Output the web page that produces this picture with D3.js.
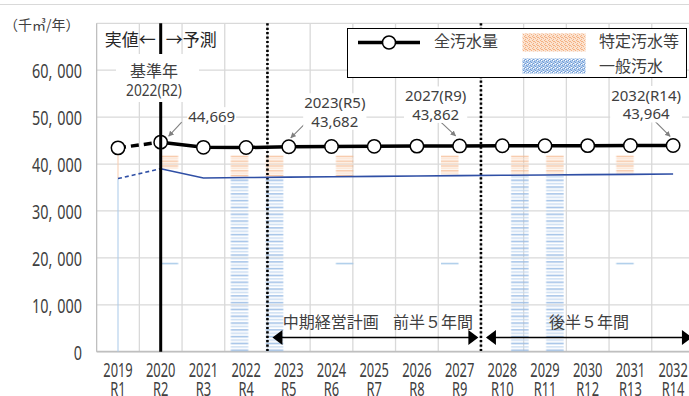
<!DOCTYPE html>
<html>
<head>
<meta charset="utf-8">
<script src="https://cdn.jsdelivr.net/npm/d3@7"></script>
<style>
  body { margin: 0; background: #fff; }
  svg { display: block; }
</style>
</head>
<body>
<div id="chart"></div>
<script>
// data
var years = ["2019","2020","2021","2022","2023","2024","2025","2026","2027","2028","2029","2030","2031","2032"];
var reiwa = ["R1","R2","R3","R4","R5","R6","R7","R8","R9","R10","R11","R12","R13","R14"];
var totalFlow = [43450, 44669, 43560, 43520, 43682, 43730, 43775, 43820, 43862, 43885, 43905, 43925, 43945, 43964];   // 全汚水量
var generalFlow = [36900, 39000, 37020, 37120, 37220, 37300, 37380, 37460, 37540, 37610, 37680, 37740, 37800, 37870]; // 一般汚水
var yTickLabels = [0, 10000, 20000, 30000, 40000, 50000, 60000];

var W = 689, H = 396;
var margin = {top: 23.3, left: 96.65};
var bandW = 42.7;
var width = bandW * years.length,
    height = 328.4;

var CJK = "'Noto Sans CJK JP', sans-serif";
var LATIN = "'Noto Sans', 'Noto Sans CJK JP', sans-serif";

var svg = d3.select("#chart")
  .append("svg")
    .attr("width", W)
    .attr("height", H)
    .style("font-family", CJK);

// faint chart-area border at the top
svg.append("line")
  .attr("x1", 0).attr("x2", W).attr("y1", 4.5).attr("y2", 4.5)
  .attr("stroke", "#d9d9d9").attr("stroke-width", 1);

var g = svg.append("g")
  .attr("transform", "translate(" + margin.left + "," + margin.top + ")");

var x = d3.scaleBand().domain(years).range([0, width]).padding(0);
var y = d3.scaleLinear().domain([0, 70000]).range([height, 0]);
var cx = function(yr) { return x(yr) + x.bandwidth() / 2; };

// condensed-looking text (squeezed horizontally)
function narrowText(parent, tx, ty, size, anchor, sx, fill) {
  return parent.append("text")
    .attr("transform", "translate(" + tx + "," + ty + ") scale(" + sx + ",1)")
    .attr("text-anchor", anchor)
    .style("font-family", LATIN)
    .style("font-size", size + "px")
    .attr("fill", fill);
}

// ---- patterns (the striped fill of the stacked bars) ----
var defs = svg.append("defs");
var colStep = 35.04, colW = 17.5, tileW = colStep * 8;
var cols = [{k: 0, full: false}, {k: 2, full: true}, {k: 3, full: true}, {k: 5, full: false}];
var originX = cx("2020");

var oPat = defs.append("pattern").attr("id", "oPat")
  .attr("patternUnits", "userSpaceOnUse")
  .attr("x", originX).attr("y", 0)
  .attr("width", tileW).attr("height", 400);
var bPat = defs.append("pattern").attr("id", "bPat")
  .attr("patternUnits", "userSpaceOnUse")
  .attr("x", originX).attr("y", 0)
  .attr("width", tileW).attr("height", 400);

cols.forEach(function(c) {
  var n = 0;
  for (var yy = 132.7; yy < 340; yy += 2.4, n++) {
    oPat.append("rect")
      .attr("x", c.k * colStep).attr("y", yy)
      .attr("width", colW).attr("height", 1.1)
      .attr("fill", n % 2 ? "#fbdcc4" : "#f4b183");
  }
  if (c.full) {
    n = 0;
    for (var yb = 0; yb < 340; yb += 3.4, n++) {
      bPat.append("rect")
        .attr("x", c.k * colStep).attr("y", yb)
        .attr("width", colW).attr("height", 1.3)
        .attr("fill", n % 2 ? "#c3d8f0" : "#8fb5e2");
    }
  } else {
    bPat.append("rect")
      .attr("x", c.k * colStep).attr("y", 239.7)
      .attr("width", colW).attr("height", 1.3)
      .attr("fill", "#9dc3e6");
  }
});

// legend swatch textures
var swO = defs.append("pattern").attr("id", "swO").attr("patternUnits", "userSpaceOnUse")
  .attr("width", 4).attr("height", 4);
swO.append("rect").attr("width", 4).attr("height", 4).attr("fill", "#fbe2cf");
[[0,0],[2,1],[1,3],[3,2],[1,1]].forEach(function(p) {
  swO.append("rect").attr("x", p[0]).attr("y", p[1]).attr("width", 1).attr("height", 1).attr("fill", "#f4b183");
});
var swB = defs.append("pattern").attr("id", "swB").attr("patternUnits", "userSpaceOnUse")
  .attr("width", 4).attr("height", 4);
swB.append("rect").attr("width", 4).attr("height", 4).attr("fill", "#b4cdec");
[[0,0],[2,1],[1,3],[3,2]].forEach(function(p) {
  swB.append("rect").attr("x", p[0]).attr("y", p[1]).attr("width", 1).attr("height", 1).attr("fill", "#6f9bd6");
});
[[1,0],[3,3]].forEach(function(p) {
  swB.append("rect").attr("x", p[0]).attr("y", p[1]).attr("width", 1).attr("height", 1).attr("fill", "#ffffff");
});

// ---- grid ----
g.append("g").selectAll("line")
  .data(y.ticks(7))
  .enter().append("line")
    .attr("x1", 0).attr("x2", width)
    .attr("y1", function(d) { return y(d); })
    .attr("y2", function(d) { return y(d); })
    .attr("stroke", "#d9d9d9").attr("stroke-width", 1.3);

g.append("g").selectAll("line")
  .data(years.slice(1).concat(["end"]))
  .enter().append("line")
    .attr("x1", function(d) { return d === "end" ? width : x(d); })
    .attr("x2", function(d) { return d === "end" ? width : x(d); })
    .attr("y1", 0).attr("y2", height)
    .attr("stroke", "#d9d9d9").attr("stroke-width", 1.3);

// axis lines
g.append("line").attr("x1", 0).attr("x2", 0).attr("y1", 0).attr("y2", height)
  .attr("stroke", "#bfbfbf").attr("stroke-width", 1.3);
g.append("line").attr("x1", 0).attr("x2", width).attr("y1", height).attr("y2", height)
  .attr("stroke", "#bfbfbf").attr("stroke-width", 1.8);

// y tick labels
var fmt = d3.format(",");
var yAxisG = g.append("g");
yTickLabels.forEach(function(d) {
  var t = narrowText(yAxisG, 82 - margin.left, y(d) + 7.8, 20, "end", 0.72, "#404040");
  var parts = fmt(d).split(",");
  t.append("tspan").text(parts[0]);
  for (var i = 1; i < parts.length; i++) {
    t.append("tspan").text(",");
    t.append("tspan").attr("dx", 7).text(parts[i]);
  }
});

// x tick labels
var xAxisG = g.append("g");
years.forEach(function(yr, i) {
  narrowText(xAxisG, cx(yr), 377.3 - margin.top, 19.5, "middle", 0.66, "#404040").text(yr);
  narrowText(xAxisG, cx(yr), 395.5 - margin.top, 19.5, "middle", 0.66, "#404040").text(reiwa[i]);
});

// ---- stacked bars ----
var rows = years.map(function(yr, i) {
  return {year: yr, total: totalFlow[i], general: generalFlow[i], specific: totalFlow[i] - generalFlow[i]};
});

g.append("g").selectAll("rect")
  .data(rows)
  .enter().append("rect")
    .attr("x", function(d, i) { return i === 0 ? cx(d.year) - 0.5 : x(d.year); })
    .attr("width", function(d, i) { return i === 0 ? 1 : x.bandwidth(); })
    .attr("y", function(d) { return y(d.general); })
    .attr("height", function(d) { return height - y(d.general); })
    .attr("fill", function(d, i) { return i === 0 ? "#a9c9ea" : "url(#bPat)"; });

g.append("g").selectAll("rect")
  .data(rows)
  .enter().append("rect")
    .attr("x", function(d, i) { return i === 0 ? cx(d.year) - 0.5 : x(d.year); })
    .attr("width", function(d, i) { return i === 0 ? 1 : x.bandwidth(); })
    .attr("y", function(d) { return y(d.general + d.specific); })
    .attr("height", function(d) { return y(d.general) - y(d.general + d.specific); })
    .attr("fill", function(d, i) { return i === 0 ? "#f8cbad" : "url(#oPat)"; });

// dotted period dividers
["2023", "2028"].forEach(function(yr) {
  g.append("line")
    .attr("x1", x(yr)).attr("x2", x(yr))
    .attr("y1", 0).attr("y2", height)
    .attr("stroke", "#000").attr("stroke-width", 2.6)
    .attr("stroke-dasharray", "2.2,2.2");
});

// ---- lines ----
var lineGen = function(vals) {
  return d3.line()
    .x(function(d) { return cx(d.year); })
    .y(function(d) { return y(d.v); })(vals);
};
var genPts = years.map(function(yr, i) { return {year: yr, v: generalFlow[i]}; });
var totPts = years.map(function(yr, i) { return {year: yr, v: totalFlow[i]}; });

g.append("path").attr("d", lineGen(genPts.slice(0, 2)))
  .attr("fill", "none").attr("stroke", "#2f4fa5").attr("stroke-width", 1.6)
  .attr("stroke-dasharray", "4,3");
g.append("path").attr("d", lineGen(genPts.slice(1)))
  .attr("fill", "none").attr("stroke", "#2f4fa5").attr("stroke-width", 1.6);

g.append("path").attr("d", lineGen(totPts.slice(0, 2)))
  .attr("fill", "none").attr("stroke", "#000").attr("stroke-width", 3.5)
  .attr("stroke-dasharray", "8,5");
g.append("path").attr("d", lineGen(totPts.slice(1)))
  .attr("fill", "none").attr("stroke", "#000").attr("stroke-width", 3.5);

g.append("g").selectAll("circle")
  .data(totPts)
  .enter().append("circle")
    .attr("cx", function(d) { return cx(d.year); })
    .attr("cy", function(d) { return y(d.v); })
    .attr("r", 6.7)
    .attr("fill", "#fff").attr("stroke", "#000").attr("stroke-width", 1.5);

// base-year divider (solid)
var bx = cx("2020");
g.append("line")
  .attr("x1", bx).attr("x2", bx).attr("y1", 0).attr("y2", height)
  .attr("stroke", "#000").attr("stroke-width", 3);

// 実値←|→予測
g.append("text").attr("x", bx - 5).attr("y", 46 - margin.top)
  .attr("text-anchor", "end").style("font-size", "17px").attr("fill", "#262626")
  .text("実値←");
g.append("text").attr("x", bx + 5).attr("y", 46 - margin.top)
  .attr("text-anchor", "start").style("font-size", "17px").attr("fill", "#262626")
  .text("→予測");

// 基準年 box
g.append("rect")
  .attr("x", 116 - margin.left).attr("y", 54 - margin.top)
  .attr("width", 83).attr("height", 48)
  .attr("fill", "#fff");
g.append("text").attr("x", 154 - margin.left).attr("y", 77 - margin.top)
  .attr("text-anchor", "middle").style("font-size", "16px").attr("fill", "#404040")
  .text("基準年");
narrowText(g, 154 - margin.left, 96 - margin.top, 16.5, "middle", 0.83, "#404040").text("2022(R2)");

// ---- callouts ----
defs.append("marker").attr("id", "arrowG")
  .attr("viewBox", "0 0 10 10").attr("refX", 9).attr("refY", 5)
  .attr("markerWidth", 5).attr("markerHeight", 5)
  .attr("orient", "auto")
  .append("path").attr("d", "M0,0L10,5L0,10z").attr("fill", "#808080");

var callouts = [
  {year: "2020", lines: [fmt(totalFlow[1])], dx: 51, dy: -20, ax: [21, -20], at: [8, -6]},
  {year: "2023", lines: ["2023(R5)", fmt(totalFlow[4])], dx: 46, dy: -20, ax: [16, -23], at: [2, -9]},
  {year: "2027", lines: ["2027(R9)", fmt(totalFlow[8])], dx: -24, dy: -26, ax: [-19, -24], at: [-4, -10]},
  {year: "2032", lines: ["2032(R14)", fmt(totalFlow[13])], dx: -27, dy: -26, ax: [-18, -24], at: [-3, -9]}
];
callouts.forEach(function(c) {
  var i = years.indexOf(c.year);
  var px = cx(c.year), py = y(totalFlow[i]);
  g.append("line")
    .attr("x1", px + c.ax[0]).attr("y1", py + c.ax[1])
    .attr("x2", px + c.at[0]).attr("y2", py + c.at[1])
    .attr("stroke", "#808080").attr("stroke-width", 1.1)
    .attr("marker-end", "url(#arrowG)");
  var lg = g.append("g");
  var bg = lg.append("rect").attr("fill", "#fff");
  var t = lg.append("text")
    .attr("text-anchor", "middle")
    .style("font-family", LATIN)
    .style("font-size", "15px").attr("fill", "#404040");
  c.lines.forEach(function(s, k) {
    t.append("tspan")
      .attr("x", px + c.dx)
      .attr("y", py + c.dy + (k - (c.lines.length - 1)) * 18.5)
      .text(s);
  });
  var bb = t.node().getBBox();
  bg.attr("x", bb.x - 1).attr("y", bb.y + 1).attr("width", bb.width + 2).attr("height", bb.height - 2);
});

// ---- plan period arrows ----
function dblArrow(x1, x2, yy) {
  var a = g.append("g");
  a.append("line").attr("x1", x1 + 8).attr("x2", x2 - 8).attr("y1", yy).attr("y2", yy)
    .attr("stroke", "#000").attr("stroke-width", 1.3);
  a.append("path").attr("d", "M" + x1 + "," + yy + "l10,-7.5v15z").attr("fill", "#000");
  a.append("path").attr("d", "M" + x2 + "," + yy + "l-10,-7.5v15z").attr("fill", "#000");
}
var arrowY = 337.5 - margin.top;
dblArrow(x("2023") + 5, x("2028") - 2.6, arrowY);
dblArrow(x("2028") + 5, width - 2.5, arrowY);

g.append("text").attr("x", 282.7 - margin.left).attr("y", 328.5 - margin.top)
  .style("font-size", "16px").attr("fill", "#404040").text("中期経営計画");
g.append("text").attr("x", 393 - margin.left).attr("y", 328.5 - margin.top)
  .style("font-size", "16px").attr("fill", "#404040").text("前半５年間");
g.append("text").attr("x", 589 - margin.left).attr("y", 328.5 - margin.top)
  .attr("text-anchor", "middle")
  .style("font-size", "16px").attr("fill", "#404040").text("後半５年間");

// unit label
svg.append("text").attr("x", 4).attr("y", 30)
  .style("font-size", "14px").attr("fill", "#404040")
  .text("（千㎥/年）");

// ---- legend ----
var leg = svg.append("g");
leg.append("rect").attr("x", 347.5).attr("y", 28.5).attr("width", 339).attr("height", 49)
  .attr("fill", "#fff").attr("stroke", "#000").attr("stroke-width", 1);
leg.append("line").attr("x1", 358).attr("x2", 420).attr("y1", 42.5).attr("y2", 42.5)
  .attr("stroke", "#000").attr("stroke-width", 3.5);
leg.append("circle").attr("cx", 389).attr("cy", 42.5).attr("r", 6.5)
  .attr("fill", "#fff").attr("stroke", "#000").attr("stroke-width", 1.5);
leg.append("text").attr("x", 434).attr("y", 47).style("font-size", "16px").attr("fill", "#404040").text("全汚水量");
leg.append("rect").attr("x", 522.5).attr("y", 33.5).attr("width", 63).attr("height", 18).attr("fill", "url(#swO)");
leg.append("text").attr("x", 599).attr("y", 47).style("font-size", "16px").attr("fill", "#404040").text("特定汚水等");
leg.append("rect").attr("x", 522.5).attr("y", 58.5).attr("width", 63).attr("height", 15).attr("fill", "url(#swB)");
leg.append("text").attr("x", 599).attr("y", 72).style("font-size", "16px").attr("fill", "#404040").text("一般汚水");
</script>
</body>
</html>
